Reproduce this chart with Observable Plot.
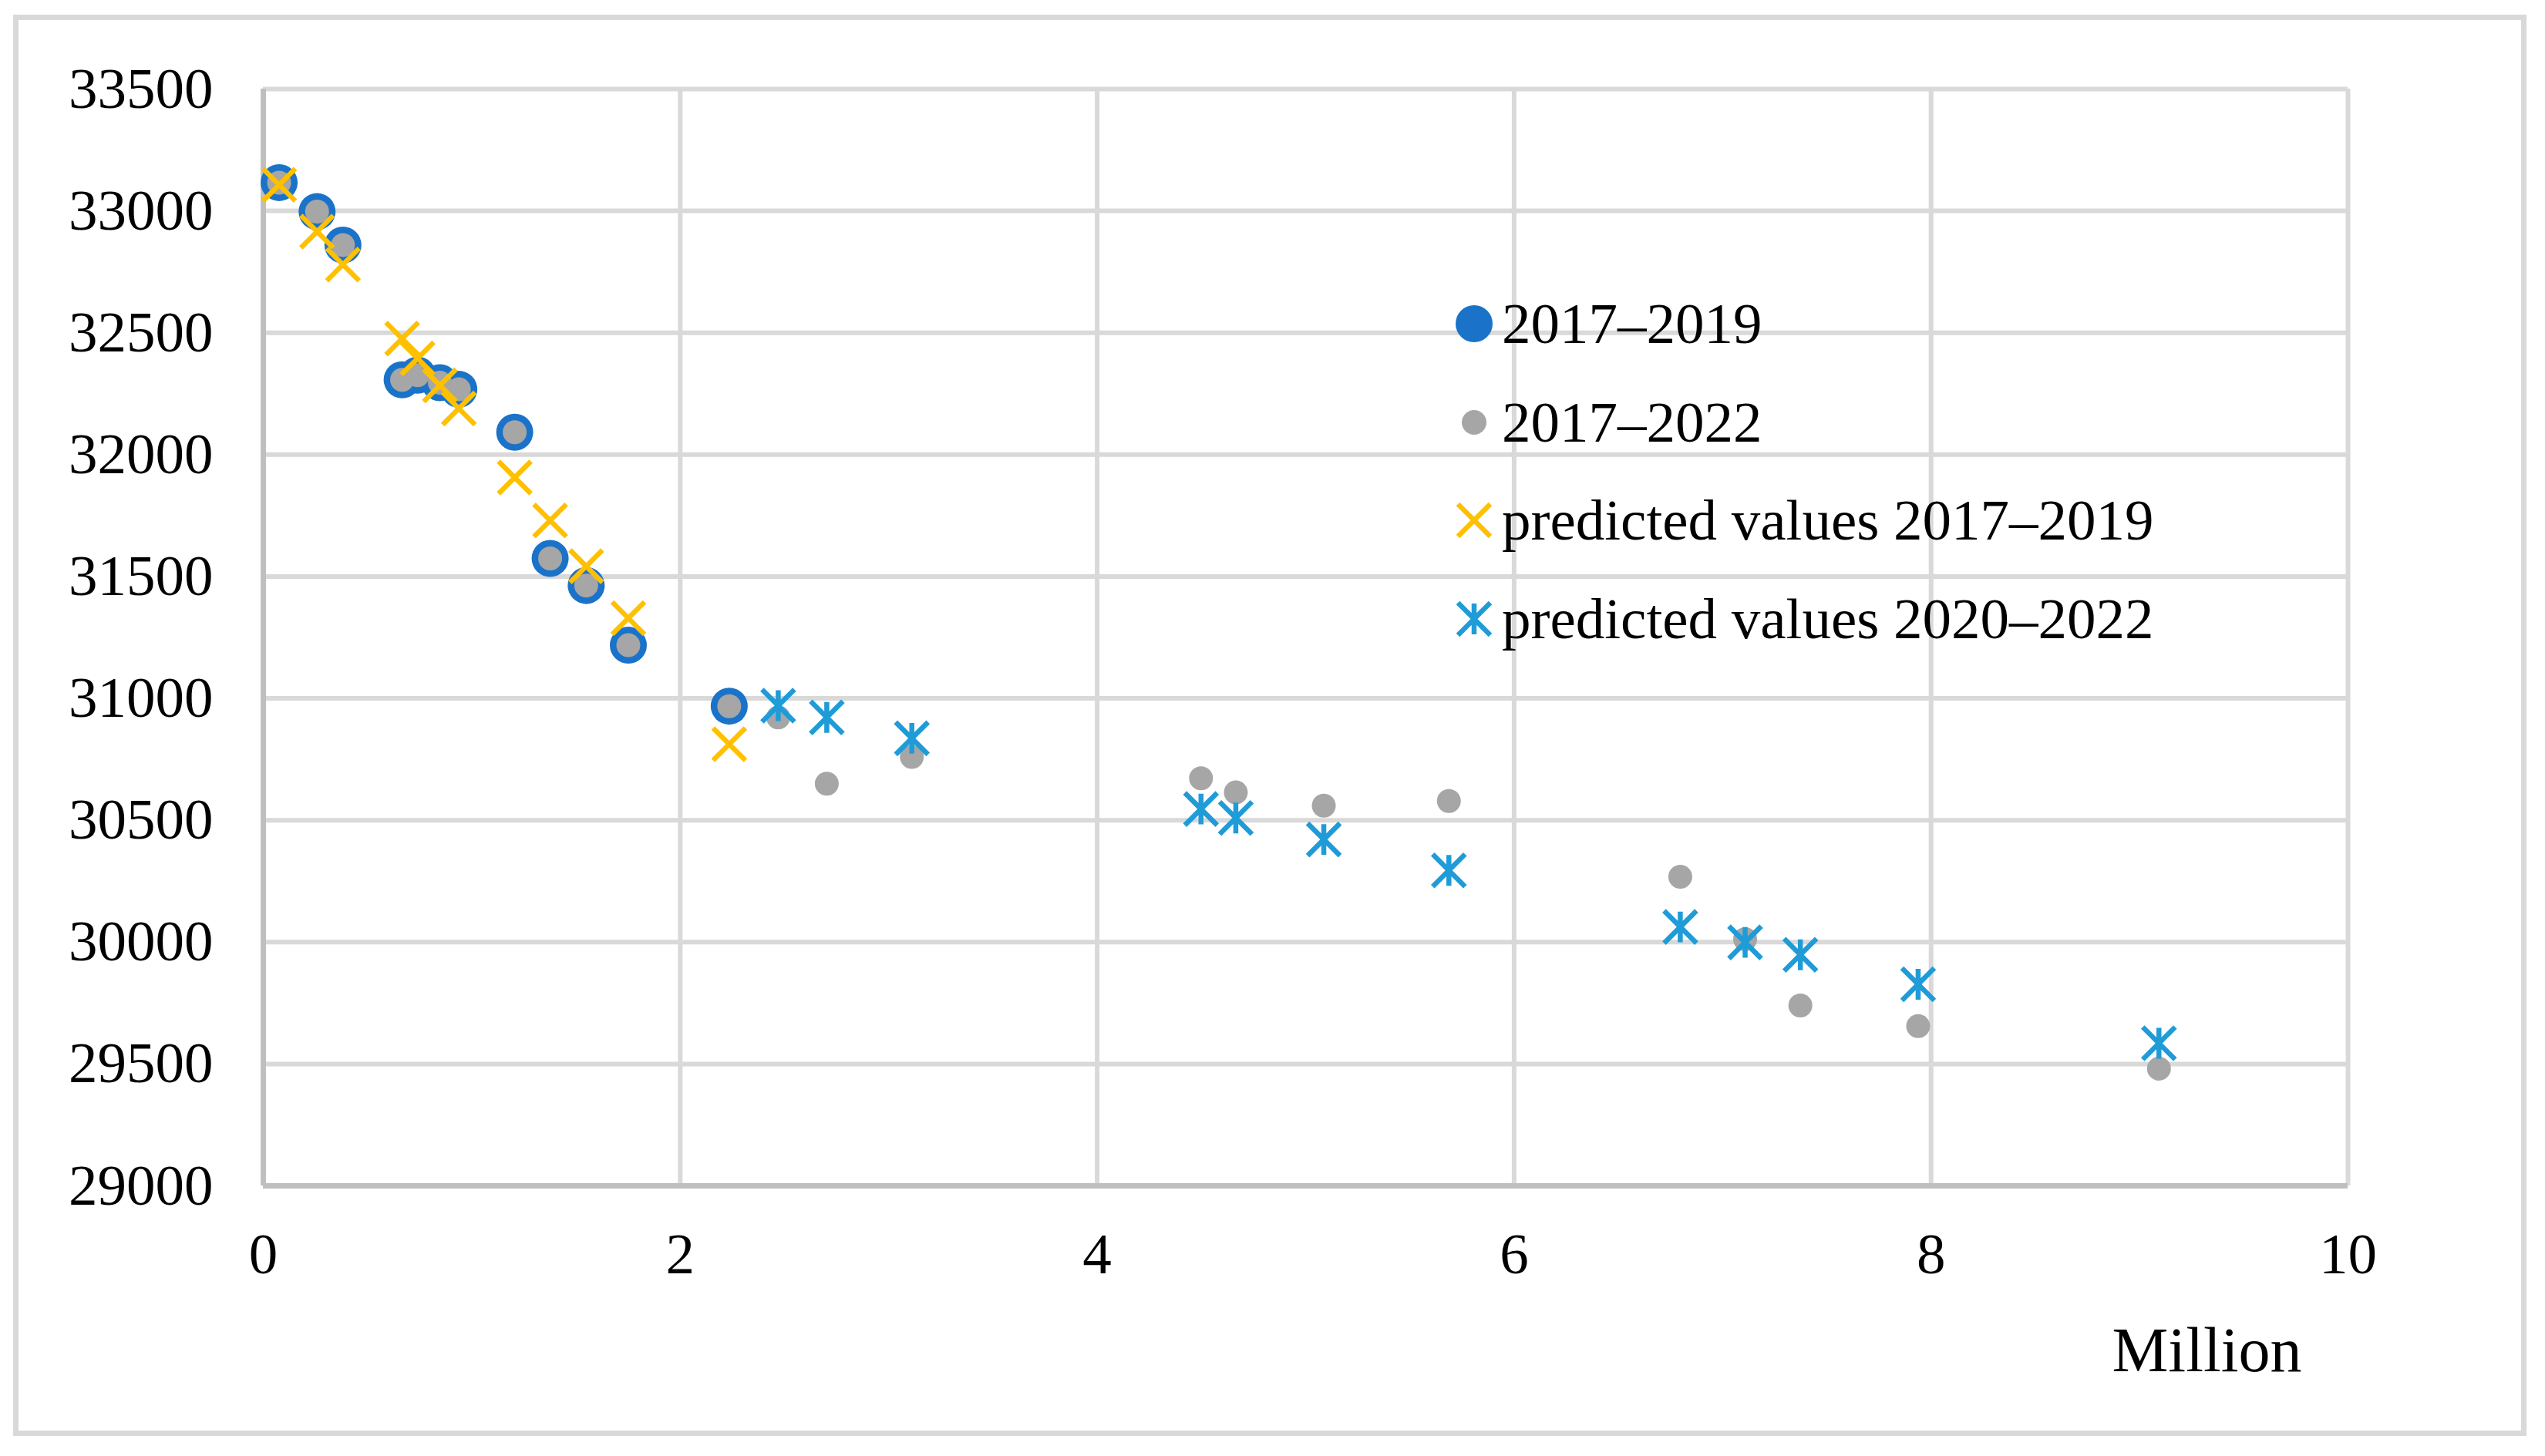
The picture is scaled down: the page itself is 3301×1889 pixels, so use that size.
<!DOCTYPE html>
<html>
<head>
<meta charset="utf-8">
<script src="https://cdn.jsdelivr.net/npm/d3@7"></script>
<script src="https://cdn.jsdelivr.net/npm/@observablehq/plot@0.6"></script>
<style>
  html, body { margin: 0; padding: 0; background: #fff; }
  #wrap { position: relative; width: 3301px; height: 1889px; overflow: hidden; font-family: "Liberation Serif", "Times New Roman", serif; }
  #frame { position: absolute; left: 17px; top: 19px; width: 3260px; height: 1844px; box-sizing: border-box; border: 7px solid #d9d9d9; pointer-events: none; }
  .lg { position: absolute; left: 1870px; height: 100px; display: flex; align-items: center; font-size: 75px; color: #000; white-space: nowrap; }
  .lg svg { width: 84px; height: 100px; flex: none; margin-right: -6px; }
</style>
</head>
<body>
<div id="wrap">
  <div id="chart"></div>
  <div id="frame"></div>
  <div id="legend"></div>
</div>
<script>
// ---- data (x in millions, y values) ----
const x2017_2019 = [0.076, 0.258, 0.382, 0.666, 0.740, 0.847, 0.938, 1.206, 1.376, 1.549, 1.751, 2.235];
const obs2017_2019 = [33116, 32997, 32860, 32307, 32326, 32295, 32268, 32092, 31574, 31463, 31218, 30968];
const pred2017_2019 = [33107, 32915, 32780, 32476, 32395, 32284, 32189, 31906, 31730, 31542, 31329, 30812];

const x2020_2022 = [2.470, 2.703, 3.111, 4.498, 4.665, 5.087, 5.687, 6.797, 7.108, 7.373, 7.938, 9.093];
const obs2020_2022 = [30922, 30650, 30760, 30672, 30614, 30560, 30579, 30268, 30012, 29740, 29655, 29481];
const pred2020_2022 = [30970, 30922, 30836, 30546, 30509, 30421, 30294, 30062, 29999, 29948, 29827, 29585];

const xTicks = [0, 2, 4, 6, 8, 10];
const yTicks = [29000, 29500, 30000, 30500, 31000, 31500, 32000, 32500, 33000, 33500];
const seriesNames = ["2017\u20132019", "2017\u20132022", "predicted values 2017\u20132019", "predicted values 2020\u20132022"];
const xUnit = "Million";

// ---- tables built from arrays ----
const blue = x2017_2019.map((x, i) => ({x, y: obs2017_2019[i]}));
const gray = blue.concat(x2020_2022.map((x, i) => ({x, y: obs2020_2022[i]})));
const predA = x2017_2019.map((x, i) => ({x, y: pred2017_2019[i]}));
const predB = x2020_2022.map((x, i) => ({x, y: pred2020_2022[i]}));

const COL_BLUE = "#1a73c8", COL_GRAY = "#a6a6a6", COL_YEL = "#ffc000", COL_AST = "#1f9cd8";

// custom symbols
const symX = { draw(ctx, size) { const r = Math.sqrt(size / Math.PI);
  ctx.moveTo(-r, -r); ctx.lineTo(r, r); ctx.moveTo(-r, r); ctx.lineTo(r, -r); } };
const symAst = { draw(ctx, size) { const r = Math.sqrt(size / Math.PI); const h = r * 0.95;
  ctx.moveTo(-r, -r); ctx.lineTo(r, r); ctx.moveTo(-r, r); ctx.lineTo(r, -r);
  ctx.moveTo(0, -h); ctx.lineTo(0, h); } };

const W = 3301, H = 1889;
const chart = Plot.plot({
  width: W, height: H,
  marginLeft: 341, marginRight: 256, marginTop: 115, marginBottom: 351,
  style: { fontFamily: "Liberation Serif, Times New Roman, serif", fontSize: "75px", color: "#000", background: "transparent" },
  x: { domain: [0, 10], label: null },
  y: { domain: [29000, 33500], label: null },
  marks: [
    Plot.ruleY(yTicks, { stroke: "#d9d9d9", strokeWidth: 6 }),
    Plot.ruleX(xTicks, { stroke: "#d9d9d9", strokeWidth: 6 }),
    Plot.ruleX([0], { stroke: "#bfbfbf", strokeWidth: 7 }),
    Plot.ruleY([29000], { stroke: "#bfbfbf", strokeWidth: 7, x1: 0, x2: 10 }),
    Plot.axisX({ ticks: xTicks, tickSize: 0, tickPadding: 60, tickFormat: d3.format("d"), label: null, fontSize: 75 }),
    Plot.axisY({ ticks: yTicks, tickSize: 0, tickPadding: 65, tickFormat: d3.format("d"), label: null, fontSize: 75 }),
    Plot.dot(blue, { x: "x", y: "y", r: 24, fill: COL_BLUE, stroke: "none" }),
    Plot.dot(gray, { x: "x", y: "y", r: 15.5, fill: COL_GRAY, stroke: "none" }),
    Plot.dot(predA, { x: "x", y: "y", r: 21, symbol: symX, fill: "none", stroke: COL_YEL, strokeWidth: 6.5 }),
    Plot.dot(predB, { x: "x", y: "y", r: 21, symbol: symAst, fill: "none", stroke: COL_AST, strokeWidth: 6.5 }),
    Plot.text([xUnit], { frameAnchor: "bottom-right", text: d => d, textAnchor: "end", lineAnchor: "middle", dx: -60, dy: 214, fontSize: 82, fill: "#000" })
  ]
});
document.getElementById("chart").appendChild(chart);

// ---- legend ----
const legend = document.getElementById("legend");
const legendRows = [420, 547.5, 675, 802.5];
const markerSvg = [
  `<circle cx="42" cy="50" r="24" fill="${COL_BLUE}"/>`,
  `<circle cx="42" cy="50" r="16" fill="${COL_GRAY}"/>`,
  `<path d="M21,29L63,71M21,71L63,29" stroke="${COL_YEL}" stroke-width="6.5" fill="none"/>`,
  `<path d="M21,29L63,71M21,71L63,29M42,30L42,70" stroke="${COL_AST}" stroke-width="6.5" fill="none"/>`
];
seriesNames.forEach((name, i) => {
  const row = document.createElement("div");
  row.className = "lg";
  row.style.top = (legendRows[i] - 50) + "px";
  row.innerHTML = `<svg viewBox="0 0 84 100">${markerSvg[i]}</svg><span>${name}</span>`;
  legend.appendChild(row);
});
</script>
</body>
</html>
